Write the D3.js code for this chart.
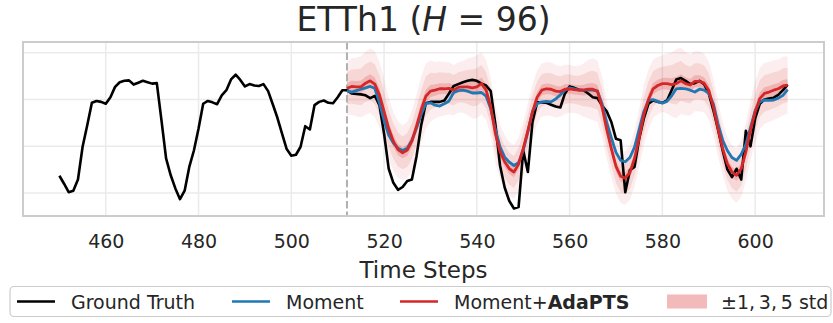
<!DOCTYPE html>
<html>
<head>
<meta charset="utf-8">
<script src="https://cdn.jsdelivr.net/npm/d3@7"></script>
<style>
  body { margin: 0; background: #fff; }
  svg { display: block; font-family: "DejaVu Sans", sans-serif; }
</style>
</head>
<body>
<svg id="chart" width="833" height="323"></svg>
<script>
// ETTh1, look-back window followed by a 96-step horizon
const historyStart = 450;
const horizonStart = 512;
const xTicks = [460, 480, 500, 520, 540, 560, 580, 600];
const yGrid = [-1, 0, 1, 2];
const yDomain = [-1.49, 2.23];

// observed series, t = 450 .. 607
const groundTruth = [
  -0.63, -0.80, -0.98, -0.95, -0.71, -0.01, 0.45, 0.93, 0.97, 0.95,
  0.91, 1.05, 1.27, 1.37, 1.40, 1.41, 1.32, 1.36, 1.40, 1.37,
  1.34, 1.35, 0.56, -0.26, -0.62, -0.90, -1.13, -0.95, -0.44, -0.09,
  0.38, 0.91, 0.97, 0.94, 0.90, 1.09, 1.20, 1.43, 1.53, 1.42,
  1.28, 1.33, 1.30, 1.29, 1.33, 1.18, 0.90, 0.61, 0.27, -0.06,
  -0.20, -0.18, -0.01, 0.43, 0.36, 0.88, 0.95, 0.98, 0.93, 0.92,
  1.05, 1.20,
  1.20, 1.13, 1.12, 1.11, 1.09, 1.03, 1.08, 0.88,
  0.27, -0.48, -0.78, -0.93, -0.87, -0.74, -0.71, -0.21, 0.45, 0.92,
  0.95, 0.95, 0.95, 0.98, 1.13, 1.29, 1.33, 1.37, 1.40, 1.42,
  1.40, 1.34, 1.30, 1.18, 0.47, -0.41, -0.88, -1.17, -1.33, -1.30,
  -0.09, -0.55, 0.52, 0.94, 0.94, 0.93, 0.89, 0.85, 0.83, 1.13,
  1.28, 1.25, 1.21, 1.20, 1.13, 1.05, 1.03, 0.87, 0.75, 0.52,
  0.16, 0.13, -0.98, -0.51, -0.44, 0.16, 0.59, 0.91, 0.98, 0.95,
  0.93, 0.98, 1.20, 1.43, 1.46, 1.40, 1.33, 1.35, 1.40, 1.33,
  1.13, 0.77, 0.36, -0.09, -0.49, -0.66, -0.48, -0.71, 0.33, 0.00,
  0.59, 0.91, 1.00, 1.02, 1.04, 1.10, 1.20, 1.32
];

// forecasts, t = 512 .. 607
const momentPred = [
  1.19, 1.16, 1.19, 1.22, 1.25, 1.28, 1.24, 0.93,
  0.55, 0.24, 0.07, -0.04, -0.09, -0.04, 0.13, 0.39, 0.68, 0.91,
  0.93, 0.88, 0.86, 0.91, 0.97, 1.15, 1.19, 1.20, 1.18, 1.14,
  1.14, 1.15, 1.07, 0.80, 0.36, -0.01, -0.23, -0.34, -0.41, -0.35,
  -0.09, 0.31, 0.75, 0.91, 0.95, 0.96, 0.95, 1.01, 1.10, 1.20,
  1.25, 1.23, 1.20, 1.20, 1.20, 1.20, 1.18, 0.91, 0.51, 0.18,
  -0.13, -0.30, -0.33, -0.24, -0.02, 0.36, 0.74, 0.98, 1.00, 0.96,
  0.92, 0.96, 1.08, 1.23, 1.24, 1.23, 1.20, 1.16, 1.22, 1.20,
  1.13, 0.91, 0.48, 0.13, -0.09, -0.24, -0.30, -0.17, 0.04, 0.40,
  0.76, 0.95, 0.99, 0.98, 0.99, 1.03, 1.09, 1.21
];

const adaptsPred = [
  1.24, 1.28, 1.27, 1.27, 1.35, 1.40, 1.33, 1.10,
  0.74, 0.38, 0.11, -0.07, -0.14, -0.08, 0.11, 0.43, 0.78, 1.07,
  1.18, 1.20, 1.23, 1.23, 1.24, 1.20, 1.26, 1.27, 1.27, 1.25,
  1.27, 1.34, 1.20, 0.84, 0.27, -0.12, -0.33, -0.48, -0.55, -0.38,
  -0.05, 0.33, 0.73, 1.05, 1.20, 1.23, 1.22, 1.18, 1.17, 1.22,
  1.23, 1.21, 1.20, 1.20, 1.22, 1.22, 1.18, 0.84, 0.36, -0.05,
  -0.43, -0.64, -0.68, -0.56, -0.26, 0.18, 0.67, 1.00, 1.23, 1.30,
  1.34, 1.34, 1.32, 1.34, 1.40, 1.34, 1.31, 1.39, 1.39, 1.35,
  1.20, 0.84, 0.38, -0.05, -0.37, -0.55, -0.62, -0.48, -0.12, 0.34,
  0.73, 1.02, 1.13, 1.16, 1.20, 1.23, 1.29, 1.31
];

const adaptsStd = [
  0.114, 0.121, 0.125, 0.131, 0.135, 0.138, 0.142, 0.142,
  0.140, 0.131, 0.125, 0.121, 0.117, 0.121, 0.128, 0.135, 0.142, 0.140,
  0.131, 0.121, 0.117, 0.114, 0.111, 0.108, 0.107, 0.111, 0.121, 0.131,
  0.135, 0.132, 0.128, 0.125, 0.121, 0.117, 0.114, 0.114, 0.114, 0.114,
  0.114, 0.117, 0.117, 0.114, 0.114, 0.114, 0.114, 0.113, 0.108, 0.105,
  0.103, 0.100, 0.103, 0.114, 0.125, 0.132, 0.131, 0.128, 0.125, 0.121,
  0.117, 0.114, 0.114, 0.117, 0.121, 0.125, 0.128, 0.128, 0.125, 0.123,
  0.121, 0.128, 0.137, 0.148, 0.142, 0.135, 0.131, 0.128, 0.128, 0.125,
  0.123, 0.120, 0.117, 0.114, 0.114, 0.114, 0.117, 0.121, 0.125, 0.128,
  0.131, 0.131, 0.131, 0.128, 0.128, 0.125, 0.125, 0.123
];

const stdBands = [5, 3, 1];
const bandOpacity = { 5: 0.08, 3: 0.12, 1: 0.2 };

const colors = { truth: "#000000", moment: "#1f77b4", adapts: "#d62728" };

const svg = d3.select("#chart");
const plot = { left: 23, right: 824, top: 42, bottom: 216 };

const gtSeries = groundTruth.map((v, i) => ({ t: historyStart + i, v }));
const fcSeries = adaptsPred.map((v, i) => ({
  t: horizonStart + i, v, m: momentPred[i], s: adaptsStd[i]
}));

const tExt = d3.extent(gtSeries, d => d.t);
const pad = (tExt[1] - tExt[0]) * 0.05;
const x = d3.scaleLinear().domain([tExt[0] - pad, tExt[1] + pad]).range([plot.left, plot.right]);
const y = d3.scaleLinear().domain(yDomain).range([plot.bottom, plot.top]);

svg.append("defs").append("clipPath").attr("id", "plotClip")
  .append("rect")
  .attr("x", plot.left).attr("y", plot.top)
  .attr("width", plot.right - plot.left).attr("height", plot.bottom - plot.top);

// grid
const grid = svg.append("g");
grid.selectAll("line.vx").data(xTicks).join("line")
  .attr("x1", d => x(d)).attr("x2", d => x(d))
  .attr("y1", plot.top).attr("y2", plot.bottom)
  .attr("stroke", "#ebebeb").attr("stroke-width", 1.5);
grid.selectAll("line.hy").data(yGrid).join("line")
  .attr("x1", plot.left).attr("x2", plot.right)
  .attr("y1", d => y(d)).attr("y2", d => y(d))
  .attr("stroke", "#ebebeb").attr("stroke-width", 1.5);

const g = svg.append("g").attr("clip-path", "url(#plotClip)");

// uncertainty bands around the AdaPTS forecast
stdBands.forEach(k => {
  g.append("path")
    .datum(fcSeries)
    .attr("fill", colors.adapts)
    .attr("fill-opacity", bandOpacity[k])
    .attr("d", d3.area()
      .x(d => x(d.t))
      .y0(d => y(d.v - k * d.s))
      .y1(d => y(d.v + k * d.s)));
});

// forecast start marker
g.append("line")
  .attr("x1", x(horizonStart)).attr("x2", x(horizonStart))
  .attr("y1", plot.top).attr("y2", plot.bottom)
  .attr("stroke", "#b0b0b0").attr("stroke-width", 2)
  .attr("stroke-dasharray", "7.4,3.2");

const line = d3.line().x(d => x(d.t)).y(d => y(d.v));

g.append("path").datum(gtSeries)
  .attr("fill", "none").attr("stroke", colors.truth)
  .attr("stroke-width", 2.6).attr("stroke-linejoin", "round")
  .attr("d", line);

g.append("path").datum(fcSeries)
  .attr("fill", "none").attr("stroke", colors.moment)
  .attr("stroke-width", 2.8).attr("stroke-linejoin", "round")
  .attr("d", d3.line().x(d => x(d.t)).y(d => y(d.m)));

g.append("path").datum(fcSeries)
  .attr("fill", "none").attr("stroke", colors.adapts)
  .attr("stroke-width", 2.8).attr("stroke-linejoin", "round")
  .attr("d", line);

// frame
svg.append("rect")
  .attr("x", plot.left).attr("y", plot.top)
  .attr("width", plot.right - plot.left).attr("height", plot.bottom - plot.top)
  .attr("fill", "none").attr("stroke", "#cccccc").attr("stroke-width", 2);

// x axis labels
const xAxis = d3.axisBottom(x).tickValues(xTicks).tickSize(0).tickPadding(19);
const ax = svg.append("g").attr("transform", `translate(0,${plot.bottom})`).call(xAxis);
ax.select(".domain").remove();
ax.selectAll("text").attr("font-size", 19).attr("fill", "#262626")
  .attr("font-family", "DejaVu Sans, sans-serif");

svg.append("text")
  .attr("x", (plot.left + plot.right) / 2).attr("y", 278)
  .attr("text-anchor", "middle").attr("font-size", 23).attr("fill", "#262626")
  .text("Time Steps");

// title
const title = svg.append("text")
  .attr("x", (plot.left + plot.right) / 2).attr("y", 31)
  .attr("text-anchor", "middle").attr("font-size", 33).attr("fill", "#262626");
title.append("tspan").text("ETTh1 (");
title.append("tspan").attr("font-style", "italic").text("H");
title.append("tspan").text(" = 96)");

// legend
const lg = svg.append("g");
lg.append("rect")
  .attr("x", 10).attr("y", 286.5).attr("width", 821).attr("height", 30)
  .attr("rx", 4).attr("fill", "#fff").attr("fill-opacity", 0.8)
  .attr("stroke", "#cccccc").attr("stroke-width", 1.2);

const legendY = 301.5;
const legendItems = [
  { kind: "line", color: colors.truth, x0: 17, label: ["Ground Truth"] },
  { kind: "line", color: colors.moment, x0: 232, label: ["Moment"] },
  { kind: "line", color: colors.adapts, x0: 400, label: ["Moment+", "AdaPTS"] },
  { kind: "patch", color: colors.adapts, x0: 667, label: ["\u00b11,\u20093,\u20095 std"] }
];
legendItems.forEach(it => {
  if (it.kind === "line") {
    lg.append("line")
      .attr("x1", it.x0).attr("x2", it.x0 + 38)
      .attr("y1", legendY).attr("y2", legendY)
      .attr("stroke", it.color).attr("stroke-width", 2.6);
  } else {
    lg.append("rect")
      .attr("x", it.x0).attr("y", legendY - 7).attr("width", 40).attr("height", 14)
      .attr("fill", it.color).attr("fill-opacity", 0.32);
  }
  const t = lg.append("text")
    .attr("x", it.x0 + 54).attr("y", legendY + 7)
    .attr("font-size", 19).attr("fill", "#262626");
  t.append("tspan").text(it.label[0]);
  if (it.label[1]) t.append("tspan").attr("font-weight", "bold").text(it.label[1]);
});
</script>
</body>
</html>
